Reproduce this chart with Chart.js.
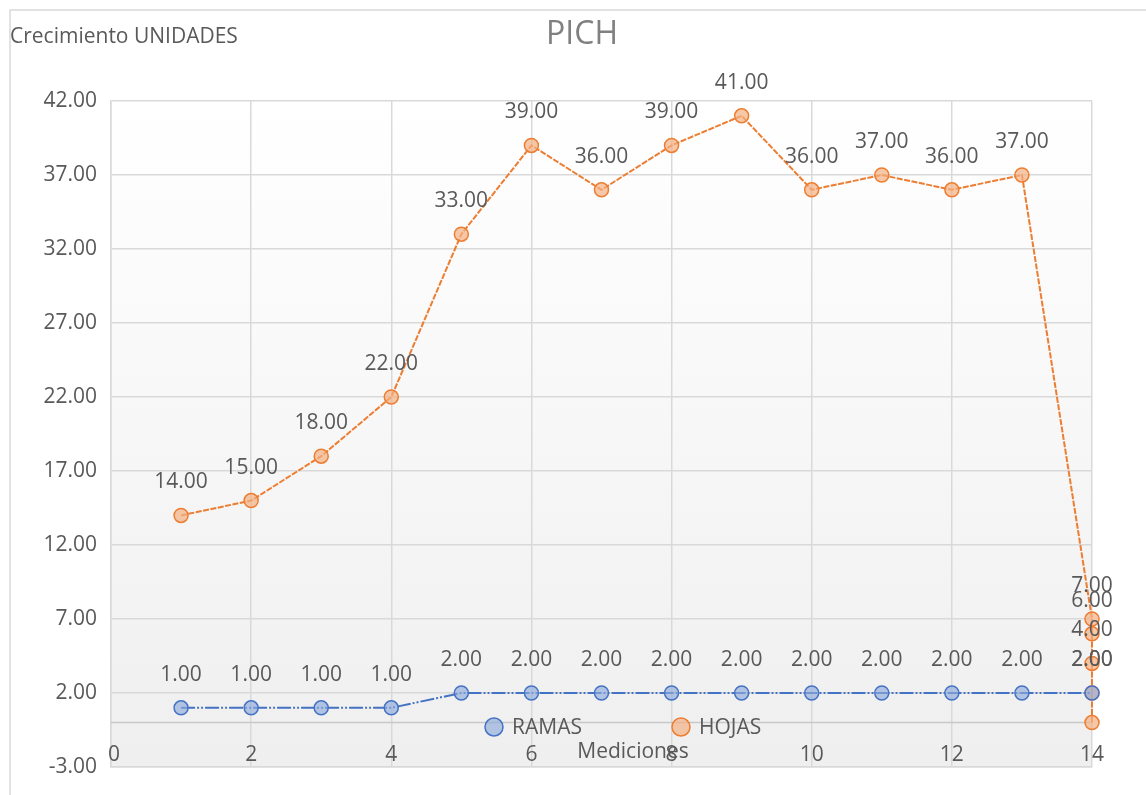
<!DOCTYPE html>
<html>
<head>
<title>PICH</title>
<script src="https://cdn.jsdelivr.net/npm/chart.js@4/dist/chart.umd.min.js"></script>
<style>
body { margin: 0; background: #fff; }
</style>
</head>
<body>
<canvas id="pich" width="1146" height="795"></canvas>

<script>
// mediciones (x) y valores de cada serie
var ramasX = [1, 2, 3, 4, 5, 6, 7, 8, 9, 10, 11, 12, 13, 14];
var ramasY = [1, 1, 1, 1, 2, 2, 2, 2, 2, 2, 2, 2, 2, 2];
var hojasX = [1, 2, 3, 4, 5, 6, 7, 8, 9, 10, 11, 12, 13, 14, 14, 14, 14, 14];
var hojasY = [14, 15, 18, 22, 33, 39, 36, 39, 41, 36, 37, 36, 37, 7, 6, 4, 2, 0];
var seriesNames = ['RAMAS', 'HOJAS'];

var FONT = '"Open Sans", sans-serif';
var TXT = '#595959';

function pts(xs, ys) {
	return xs.map(function (x, i) { return { x: x, y: ys[i] }; });
}

// fondo, borde exterior, linea del cero
var decor = {
	id: 'decor',
	beforeDraw: function (chart) {
		var c = chart.ctx, a = chart.chartArea;
		c.save();
		c.strokeStyle = '#d9d9d9';
		c.lineWidth = 1.5;
		c.beginPath();
		c.moveTo(10, 800); c.lineTo(10, 10); c.lineTo(1150, 10);
		c.stroke();
		var g = c.createLinearGradient(0, a.top, 0, a.bottom);
		g.addColorStop(0, '#ffffff');
		g.addColorStop(1, '#efefef');
		c.fillStyle = g;
		c.fillRect(a.left, a.top, a.right - a.left, a.bottom - a.top);
		c.restore();
	},
	beforeDatasetsDraw: function (chart) {
		var c = chart.ctx, a = chart.chartArea;
		var y0 = chart.scales.y.getPixelForValue(0);
		c.save();
		c.strokeStyle = '#c8c8c8';
		c.lineWidth = 1.5;
		c.beginPath();
		c.moveTo(a.left, y0); c.lineTo(a.right, y0);
		c.stroke();
		// etiquetas del eje x (dentro del area, como en el original)
		var xs = chart.scales.x;
		c.fillStyle = TXT;
		c.font = '21px ' + FONT;
		c.textAlign = 'center';
		c.textBaseline = 'middle';
		xs.ticks.forEach(function (t) {
			c.fillText(String(t.value), xs.getPixelForValue(t.value) + (t.value === 0 ? 3 : 0), 755);
		});
		c.restore();
	},
	afterDraw: function (chart) {
		var c = chart.ctx;
		c.save();
		// titulos
		c.fillStyle = '#808080';
		c.font = '32px ' + FONT;
		c.textAlign = 'center';
		c.textBaseline = 'middle';
		c.fillText('PICH', 582, 35);
		c.fillStyle = TXT;
		c.font = '21px ' + FONT;
		c.textAlign = 'left';
		c.fillText('Crecimiento UNIDADES', 10, 37);
		// etiquetas de datos
		c.font = '21px ' + FONT;
		c.textAlign = 'center';
		chart.data.datasets.forEach(function (ds, di) {
			var meta = chart.getDatasetMeta(di);
			ds.data.forEach(function (p, i) {
				if (p.y === 0) return;
				var el = meta.data[i];
				c.fillText(p.y.toFixed(2), el.x, el.y - 33);
			});
		});
		// leyenda
		var lx = [494, 681];
		chart.data.datasets.forEach(function (ds, di) {
			c.beginPath();
			c.arc(lx[di], 727, 9, 0, Math.PI * 2);
			c.fillStyle = ds.pointBackgroundColor;
			c.fill();
			c.lineWidth = 1.5;
			c.strokeStyle = ds.borderColor;
			c.stroke();
			c.fillStyle = TXT;
			c.textAlign = 'left';
			c.fillText(ds.label, lx[di] + 18, 728);
		});
		// titulo eje x
		c.textAlign = 'center';
		c.fillText('Mediciones', 633, 752);
		c.restore();
	}
};

var chart = new Chart(document.getElementById('pich').getContext('2d'), {
	type: 'scatter',
	data: {
		datasets: [
			{
				label: seriesNames[0],
				data: pts(ramasX, ramasY),
				showLine: true,
				borderColor: '#4472c4',
				borderWidth: 2,
				borderDash: [14, 2, 2, 2, 2, 2],
				pointRadius: 7,
				pointBorderWidth: 1.5,
				pointBorderColor: '#4472c4',
				pointBackgroundColor: 'rgba(143,170,220,0.65)',
				clip: false
			},
			{
				label: seriesNames[1],
				data: pts(hojasX, hojasY),
				showLine: true,
				borderColor: '#ed7d31',
				borderWidth: 2,
				borderDash: [6, 1.5],
				pointRadius: 7,
				pointBorderWidth: 1.5,
				pointBorderColor: '#ed7d31',
				pointBackgroundColor: 'rgba(244,177,131,0.7)',
				clip: false
			}
		]
	},
	options: {
		responsive: false,
		animation: false,
		layout: { padding: { top: 101, right: 54, left: 0, bottom: 28 } },
		plugins: {
			legend: { display: false },
			title: { display: false },
			tooltip: { enabled: false }
		},
		scales: {
			x: {
				type: 'linear',
				min: 0, max: 14,
				afterFit: function (s) { s.height = 0; },
				ticks: { stepSize: 2, display: false },
				grid: { color: '#d9d9d9', lineWidth: 1.5, drawTicks: false },
				border: { color: '#d9d9d9', width: 1.5 }
			},
			y: {
				min: -3, max: 42,
				afterFit: function (s) { s.width = 111; },
				ticks: {
					stepSize: 5,
					padding: 14,
					color: TXT,
					font: { family: FONT, size: 21 },
					callback: function (v) { return v.toFixed(2); }
				},
				grid: { color: '#d9d9d9', lineWidth: 1.5, drawTicks: false },
				border: { color: '#d9d9d9', width: 1.5 }
			}
		}
	},
	plugins: [decor]
});
</script>
</body>
</html>
